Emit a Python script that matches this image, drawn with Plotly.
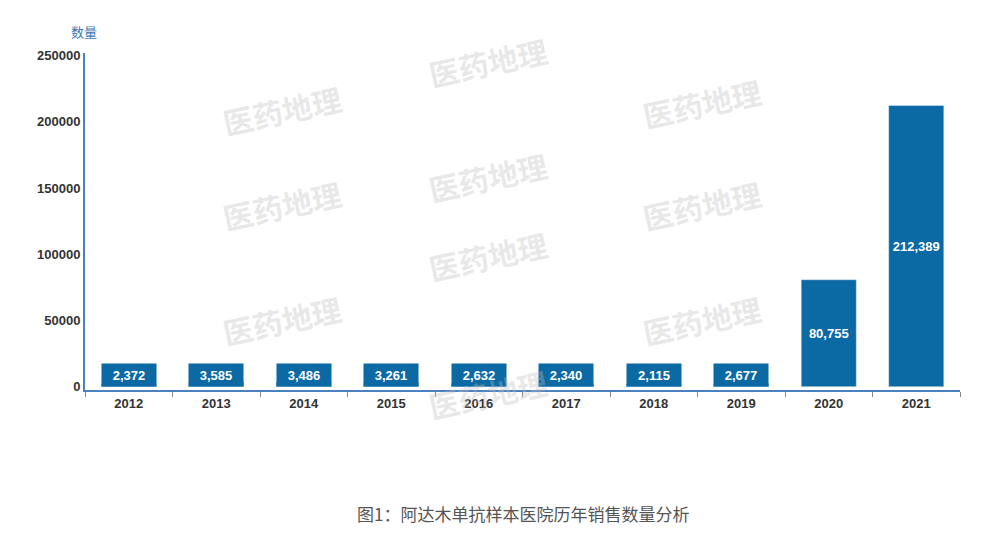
import plotly.graph_objects as go

years = ["2012", "2013", "2014", "2015", "2016", "2017", "2018", "2019", "2020", "2021"]
qty = [2372, 3585, 3486, 3261, 2632, 2340, 2115, 2677, 80755, 212389]
y_ticks = [0, 50000, 100000, 150000, 200000, 250000]

blue = "#0b69a3"
fig = go.Figure()
fig.add_trace(go.Bar(x=years, y=qty, marker_color=blue, width=0.63,
                     text=[f"<b>{v:,}</b>" if v > 20000 else "" for v in qty],
                     textposition="inside", insidetextanchor="middle",
                     textfont=dict(color="white", size=13, family="Liberation Sans"),
                     hoverinfo="x+y"))

# small values are shown as labelled boxes sitting on the axis
for i, v in enumerate(qty):
    if v < 20000:
        fig.add_annotation(x=i, y=0, yref="y", yanchor="bottom", text=f"<b>{v:,}</b>",
                           showarrow=False, bgcolor=blue, width=52, height=20,
                           font=dict(color="white", size=13, family="Liberation Sans"))

# watermarks
for wx, wy in [(0.15, 0.94), (0.46, 1.08), (0.78, 0.96), (0.46, 0.74), (0.15, 0.55),
               (0.78, 0.55), (0.46, 0.29), (0.15, 0.1), (0.78, 0.1), (0.46, -0.12)]:
    fig.add_annotation(x=wx, y=wy, xref="paper", yref="paper", text="<b>医药地理</b>",
                       showarrow=False, textangle=-12,
                       font=dict(size=30, color="rgba(190,190,190,0.35)", family="Noto Sans CJK SC"))

fig.add_annotation(x=0, y=1.03, xref="paper", yref="paper", xanchor="right", yanchor="bottom",
                   text="数量", showarrow=False, xshift=14,
                   font=dict(size=13, color="#3a78b0", family="Noto Sans CJK SC"))
fig.add_annotation(x=0.5, y=-0.41, xref="paper", yref="paper", text="图1：阿达木单抗样本医院历年销售数量分析",
                   showarrow=False, font=dict(size=17, color="#555", family="Noto Sans CJK SC"))

fig.update_layout(
    width=1000, height=540, plot_bgcolor="white", paper_bgcolor="white",
    margin=dict(l=77, r=48, t=45, b=158), showlegend=False, bargap=0.37,
    xaxis=dict(type="category", showline=True, linecolor="#4a82c0", linewidth=2, ticks="outside",
               tickson="boundaries", tickcolor="#888", ticklen=5,
               tickvals=years, ticktext=[f"<b>{y}</b>" for y in years],
               tickfont=dict(size=13, color="#333", family="Liberation Sans")),
    yaxis=dict(range=[-2500, 252000], tickvals=y_ticks, ticktext=[f"<b>{t}</b>" for t in y_ticks],
               showgrid=False, zeroline=False,
               showline=True, linecolor="#4a82c0", linewidth=2,
               tickfont=dict(size=13, color="#333", family="Liberation Sans")),
    font=dict(family="Liberation Sans"),
)
fig.write_html("out.html")
